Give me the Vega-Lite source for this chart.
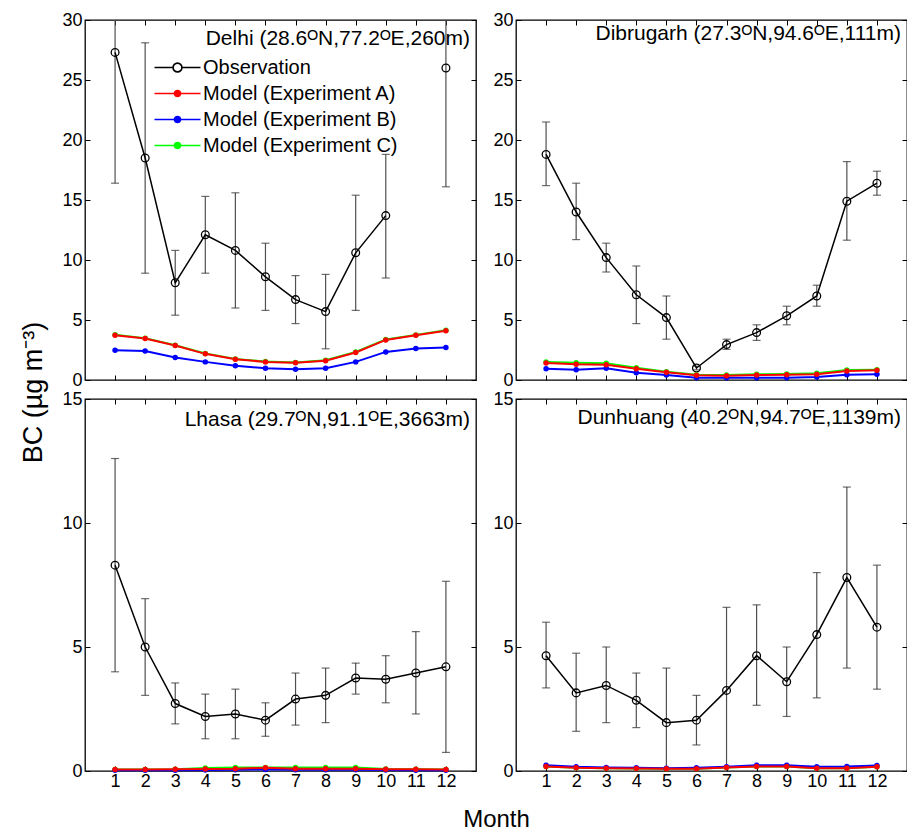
{
"$schema": "https://vega.github.io/schema/vega-lite/v6.json",
"padding": {"left": 18, "top": 10, "right": 2, "bottom": 0},
"background": "white",
"bounds": "flush",
"spacing": {"row": 19, "column": 40},
"columns": 2,
"datasets": {
"obs": [
{"st":"Delhi","s":"Observation","m":1,"v":27.3,"lo":16.4,"hi":33},
{"st":"Delhi","s":"Observation","m":2,"v":18.5,"lo":8.9,"hi":28.1},
{"st":"Delhi","s":"Observation","m":3,"v":8.1,"lo":5.4,"hi":10.8},
{"st":"Delhi","s":"Observation","m":4,"v":12.1,"lo":8.9,"hi":15.3},
{"st":"Delhi","s":"Observation","m":5,"v":10.8,"lo":6.0,"hi":15.6},
{"st":"Delhi","s":"Observation","m":6,"v":8.6,"lo":5.8,"hi":11.4},
{"st":"Delhi","s":"Observation","m":7,"v":6.7,"lo":4.7,"hi":8.7},
{"st":"Delhi","s":"Observation","m":8,"v":5.7,"lo":2.6,"hi":8.8},
{"st":"Delhi","s":"Observation","m":9,"v":10.6,"lo":5.8,"hi":15.4},
{"st":"Delhi","s":"Observation","m":10,"v":13.7,"lo":8.5,"hi":18.8},
{"st":"Delhi","s":"Observation","m":11,"v":null,"lo":null,"hi":null},
{"st":"Delhi","s":"Observation","m":12,"v":26.0,"lo":16.1,"hi":33},
{"st":"Dibrugarh","s":"Observation","m":1,"v":18.8,"lo":16.2,"hi":21.5},
{"st":"Dibrugarh","s":"Observation","m":2,"v":14.0,"lo":11.7,"hi":16.4},
{"st":"Dibrugarh","s":"Observation","m":3,"v":10.2,"lo":9.0,"hi":11.4},
{"st":"Dibrugarh","s":"Observation","m":4,"v":7.1,"lo":4.7,"hi":9.5},
{"st":"Dibrugarh","s":"Observation","m":5,"v":5.2,"lo":3.4,"hi":7.0},
{"st":"Dibrugarh","s":"Observation","m":6,"v":1.0,"lo":0.85,"hi":1.15},
{"st":"Dibrugarh","s":"Observation","m":7,"v":2.95,"lo":2.55,"hi":3.4},
{"st":"Dibrugarh","s":"Observation","m":8,"v":3.95,"lo":3.3,"hi":4.6},
{"st":"Dibrugarh","s":"Observation","m":9,"v":5.35,"lo":4.6,"hi":6.15},
{"st":"Dibrugarh","s":"Observation","m":10,"v":7.0,"lo":6.15,"hi":7.9},
{"st":"Dibrugarh","s":"Observation","m":11,"v":14.9,"lo":11.65,"hi":18.2},
{"st":"Dibrugarh","s":"Observation","m":12,"v":16.4,"lo":15.4,"hi":17.4},
{"st":"Lhasa","s":"Observation","m":1,"v":8.3,"lo":4.0,"hi":12.6},
{"st":"Lhasa","s":"Observation","m":2,"v":5.0,"lo":3.05,"hi":6.95},
{"st":"Lhasa","s":"Observation","m":3,"v":2.72,"lo":1.9,"hi":3.55},
{"st":"Lhasa","s":"Observation","m":4,"v":2.2,"lo":1.3,"hi":3.1},
{"st":"Lhasa","s":"Observation","m":5,"v":2.3,"lo":1.3,"hi":3.3},
{"st":"Lhasa","s":"Observation","m":6,"v":2.05,"lo":1.4,"hi":2.75},
{"st":"Lhasa","s":"Observation","m":7,"v":2.9,"lo":1.85,"hi":3.95},
{"st":"Lhasa","s":"Observation","m":8,"v":3.05,"lo":1.95,"hi":4.15},
{"st":"Lhasa","s":"Observation","m":9,"v":3.75,"lo":3.1,"hi":4.35},
{"st":"Lhasa","s":"Observation","m":10,"v":3.7,"lo":2.75,"hi":4.65},
{"st":"Lhasa","s":"Observation","m":11,"v":3.95,"lo":2.3,"hi":5.62},
{"st":"Lhasa","s":"Observation","m":12,"v":4.2,"lo":0.75,"hi":7.65},
{"st":"Dunhuang","s":"Observation","m":1,"v":4.65,"lo":3.35,"hi":6.0},
{"st":"Dunhuang","s":"Observation","m":2,"v":3.15,"lo":1.6,"hi":4.75},
{"st":"Dunhuang","s":"Observation","m":3,"v":3.45,"lo":1.95,"hi":5.0},
{"st":"Dunhuang","s":"Observation","m":4,"v":2.85,"lo":1.75,"hi":3.95},
{"st":"Dunhuang","s":"Observation","m":5,"v":1.95,"lo":-0.5,"hi":4.15},
{"st":"Dunhuang","s":"Observation","m":6,"v":2.05,"lo":1.05,"hi":3.05},
{"st":"Dunhuang","s":"Observation","m":7,"v":3.25,"lo":-0.5,"hi":6.6},
{"st":"Dunhuang","s":"Observation","m":8,"v":4.65,"lo":2.65,"hi":6.7},
{"st":"Dunhuang","s":"Observation","m":9,"v":3.6,"lo":2.2,"hi":5.0},
{"st":"Dunhuang","s":"Observation","m":10,"v":5.5,"lo":2.95,"hi":8.0},
{"st":"Dunhuang","s":"Observation","m":11,"v":7.8,"lo":4.15,"hi":11.45},
{"st":"Dunhuang","s":"Observation","m":12,"v":5.8,"lo":3.3,"hi":8.3}
],
"mod": [
{"st":"Delhi","s":"Model (Experiment C)","m":1,"v":3.77},{"st":"Delhi","s":"Model (Experiment C)","m":2,"v":3.49},{"st":"Delhi","s":"Model (Experiment C)","m":3,"v":2.9},{"st":"Delhi","s":"Model (Experiment C)","m":4,"v":2.21},{"st":"Delhi","s":"Model (Experiment C)","m":5,"v":1.76},{"st":"Delhi","s":"Model (Experiment C)","m":6,"v":1.54},{"st":"Delhi","s":"Model (Experiment C)","m":7,"v":1.46},{"st":"Delhi","s":"Model (Experiment C)","m":8,"v":1.64},{"st":"Delhi","s":"Model (Experiment C)","m":9,"v":2.33},{"st":"Delhi","s":"Model (Experiment C)","m":10,"v":3.38},{"st":"Delhi","s":"Model (Experiment C)","m":11,"v":3.76},{"st":"Delhi","s":"Model (Experiment C)","m":12,"v":4.15},
{"st":"Delhi","s":"Model (Experiment B)","m":1,"v":2.48},{"st":"Delhi","s":"Model (Experiment B)","m":2,"v":2.42},{"st":"Delhi","s":"Model (Experiment B)","m":3,"v":1.87},{"st":"Delhi","s":"Model (Experiment B)","m":4,"v":1.51},{"st":"Delhi","s":"Model (Experiment B)","m":5,"v":1.18},{"st":"Delhi","s":"Model (Experiment B)","m":6,"v":0.98},{"st":"Delhi","s":"Model (Experiment B)","m":7,"v":0.9},{"st":"Delhi","s":"Model (Experiment B)","m":8,"v":0.98},{"st":"Delhi","s":"Model (Experiment B)","m":9,"v":1.51},{"st":"Delhi","s":"Model (Experiment B)","m":10,"v":2.34},{"st":"Delhi","s":"Model (Experiment B)","m":11,"v":2.62},{"st":"Delhi","s":"Model (Experiment B)","m":12,"v":2.7},
{"st":"Delhi","s":"Model (Experiment A)","m":1,"v":3.72},{"st":"Delhi","s":"Model (Experiment A)","m":2,"v":3.45},{"st":"Delhi","s":"Model (Experiment A)","m":3,"v":2.87},{"st":"Delhi","s":"Model (Experiment A)","m":4,"v":2.18},{"st":"Delhi","s":"Model (Experiment A)","m":5,"v":1.73},{"st":"Delhi","s":"Model (Experiment A)","m":6,"v":1.51},{"st":"Delhi","s":"Model (Experiment A)","m":7,"v":1.43},{"st":"Delhi","s":"Model (Experiment A)","m":8,"v":1.6},{"st":"Delhi","s":"Model (Experiment A)","m":9,"v":2.29},{"st":"Delhi","s":"Model (Experiment A)","m":10,"v":3.34},{"st":"Delhi","s":"Model (Experiment A)","m":11,"v":3.72},{"st":"Delhi","s":"Model (Experiment A)","m":12,"v":4.11},
{"st":"Dibrugarh","s":"Model (Experiment C)","m":1,"v":1.5},{"st":"Dibrugarh","s":"Model (Experiment C)","m":2,"v":1.44},{"st":"Dibrugarh","s":"Model (Experiment C)","m":3,"v":1.39},{"st":"Dibrugarh","s":"Model (Experiment C)","m":4,"v":1.03},{"st":"Dibrugarh","s":"Model (Experiment C)","m":5,"v":0.69},{"st":"Dibrugarh","s":"Model (Experiment C)","m":6,"v":0.44},{"st":"Dibrugarh","s":"Model (Experiment C)","m":7,"v":0.42},{"st":"Dibrugarh","s":"Model (Experiment C)","m":8,"v":0.48},{"st":"Dibrugarh","s":"Model (Experiment C)","m":9,"v":0.5},{"st":"Dibrugarh","s":"Model (Experiment C)","m":10,"v":0.56},{"st":"Dibrugarh","s":"Model (Experiment C)","m":11,"v":0.83},{"st":"Dibrugarh","s":"Model (Experiment C)","m":12,"v":0.86},
{"st":"Dibrugarh","s":"Model (Experiment B)","m":1,"v":0.94},{"st":"Dibrugarh","s":"Model (Experiment B)","m":2,"v":0.86},{"st":"Dibrugarh","s":"Model (Experiment B)","m":3,"v":0.97},{"st":"Dibrugarh","s":"Model (Experiment B)","m":4,"v":0.61},{"st":"Dibrugarh","s":"Model (Experiment B)","m":5,"v":0.42},{"st":"Dibrugarh","s":"Model (Experiment B)","m":6,"v":0.19},{"st":"Dibrugarh","s":"Model (Experiment B)","m":7,"v":0.19},{"st":"Dibrugarh","s":"Model (Experiment B)","m":8,"v":0.19},{"st":"Dibrugarh","s":"Model (Experiment B)","m":9,"v":0.19},{"st":"Dibrugarh","s":"Model (Experiment B)","m":10,"v":0.25},{"st":"Dibrugarh","s":"Model (Experiment B)","m":11,"v":0.44},{"st":"Dibrugarh","s":"Model (Experiment B)","m":12,"v":0.48},
{"st":"Dibrugarh","s":"Model (Experiment A)","m":1,"v":1.42},{"st":"Dibrugarh","s":"Model (Experiment A)","m":2,"v":1.31},{"st":"Dibrugarh","s":"Model (Experiment A)","m":3,"v":1.28},{"st":"Dibrugarh","s":"Model (Experiment A)","m":4,"v":0.94},{"st":"Dibrugarh","s":"Model (Experiment A)","m":5,"v":0.64},{"st":"Dibrugarh","s":"Model (Experiment A)","m":6,"v":0.39},{"st":"Dibrugarh","s":"Model (Experiment A)","m":7,"v":0.36},{"st":"Dibrugarh","s":"Model (Experiment A)","m":8,"v":0.42},{"st":"Dibrugarh","s":"Model (Experiment A)","m":9,"v":0.44},{"st":"Dibrugarh","s":"Model (Experiment A)","m":10,"v":0.48},{"st":"Dibrugarh","s":"Model (Experiment A)","m":11,"v":0.75},{"st":"Dibrugarh","s":"Model (Experiment A)","m":12,"v":0.81},
{"st":"Lhasa","s":"Model (Experiment C)","m":1,"v":0.06},{"st":"Lhasa","s":"Model (Experiment C)","m":2,"v":0.06},{"st":"Lhasa","s":"Model (Experiment C)","m":3,"v":0.07},{"st":"Lhasa","s":"Model (Experiment C)","m":4,"v":0.12},{"st":"Lhasa","s":"Model (Experiment C)","m":5,"v":0.14},{"st":"Lhasa","s":"Model (Experiment C)","m":6,"v":0.14},{"st":"Lhasa","s":"Model (Experiment C)","m":7,"v":0.14},{"st":"Lhasa","s":"Model (Experiment C)","m":8,"v":0.14},{"st":"Lhasa","s":"Model (Experiment C)","m":9,"v":0.14},{"st":"Lhasa","s":"Model (Experiment C)","m":10,"v":0.08},{"st":"Lhasa","s":"Model (Experiment C)","m":11,"v":0.07},{"st":"Lhasa","s":"Model (Experiment C)","m":12,"v":0.06},
{"st":"Lhasa","s":"Model (Experiment B)","m":1,"v":0.03},{"st":"Lhasa","s":"Model (Experiment B)","m":2,"v":0.03},{"st":"Lhasa","s":"Model (Experiment B)","m":3,"v":0.03},{"st":"Lhasa","s":"Model (Experiment B)","m":4,"v":0.04},{"st":"Lhasa","s":"Model (Experiment B)","m":5,"v":0.05},{"st":"Lhasa","s":"Model (Experiment B)","m":6,"v":0.06},{"st":"Lhasa","s":"Model (Experiment B)","m":7,"v":0.05},{"st":"Lhasa","s":"Model (Experiment B)","m":8,"v":0.05},{"st":"Lhasa","s":"Model (Experiment B)","m":9,"v":0.05},{"st":"Lhasa","s":"Model (Experiment B)","m":10,"v":0.04},{"st":"Lhasa","s":"Model (Experiment B)","m":11,"v":0.03},{"st":"Lhasa","s":"Model (Experiment B)","m":12,"v":0.03},
{"st":"Lhasa","s":"Model (Experiment A)","m":1,"v":0.06},{"st":"Lhasa","s":"Model (Experiment A)","m":2,"v":0.06},{"st":"Lhasa","s":"Model (Experiment A)","m":3,"v":0.07},{"st":"Lhasa","s":"Model (Experiment A)","m":4,"v":0.08},{"st":"Lhasa","s":"Model (Experiment A)","m":5,"v":0.09},{"st":"Lhasa","s":"Model (Experiment A)","m":6,"v":0.13},{"st":"Lhasa","s":"Model (Experiment A)","m":7,"v":0.09},{"st":"Lhasa","s":"Model (Experiment A)","m":8,"v":0.09},{"st":"Lhasa","s":"Model (Experiment A)","m":9,"v":0.09},{"st":"Lhasa","s":"Model (Experiment A)","m":10,"v":0.07},{"st":"Lhasa","s":"Model (Experiment A)","m":11,"v":0.07},{"st":"Lhasa","s":"Model (Experiment A)","m":12,"v":0.06},
{"st":"Dunhuang","s":"Model (Experiment C)","m":1,"v":0.185},{"st":"Dunhuang","s":"Model (Experiment C)","m":2,"v":0.135},{"st":"Dunhuang","s":"Model (Experiment C)","m":3,"v":0.115},{"st":"Dunhuang","s":"Model (Experiment C)","m":4,"v":0.105},{"st":"Dunhuang","s":"Model (Experiment C)","m":5,"v":0.095},{"st":"Dunhuang","s":"Model (Experiment C)","m":6,"v":0.095},{"st":"Dunhuang","s":"Model (Experiment C)","m":7,"v":0.145},{"st":"Dunhuang","s":"Model (Experiment C)","m":8,"v":0.185},{"st":"Dunhuang","s":"Model (Experiment C)","m":9,"v":0.185},{"st":"Dunhuang","s":"Model (Experiment C)","m":10,"v":0.115},{"st":"Dunhuang","s":"Model (Experiment C)","m":11,"v":0.115},{"st":"Dunhuang","s":"Model (Experiment C)","m":12,"v":0.175},
{"st":"Dunhuang","s":"Model (Experiment B)","m":1,"v":0.23},{"st":"Dunhuang","s":"Model (Experiment B)","m":2,"v":0.17},{"st":"Dunhuang","s":"Model (Experiment B)","m":3,"v":0.14},{"st":"Dunhuang","s":"Model (Experiment B)","m":4,"v":0.13},{"st":"Dunhuang","s":"Model (Experiment B)","m":5,"v":0.11},{"st":"Dunhuang","s":"Model (Experiment B)","m":6,"v":0.13},{"st":"Dunhuang","s":"Model (Experiment B)","m":7,"v":0.17},{"st":"Dunhuang","s":"Model (Experiment B)","m":8,"v":0.23},{"st":"Dunhuang","s":"Model (Experiment B)","m":9,"v":0.23},{"st":"Dunhuang","s":"Model (Experiment B)","m":10,"v":0.17},{"st":"Dunhuang","s":"Model (Experiment B)","m":11,"v":0.18},{"st":"Dunhuang","s":"Model (Experiment B)","m":12,"v":0.22},
{"st":"Dunhuang","s":"Model (Experiment A)","m":1,"v":0.18},{"st":"Dunhuang","s":"Model (Experiment A)","m":2,"v":0.13},{"st":"Dunhuang","s":"Model (Experiment A)","m":3,"v":0.11},{"st":"Dunhuang","s":"Model (Experiment A)","m":4,"v":0.1},{"st":"Dunhuang","s":"Model (Experiment A)","m":5,"v":0.09},{"st":"Dunhuang","s":"Model (Experiment A)","m":6,"v":0.09},{"st":"Dunhuang","s":"Model (Experiment A)","m":7,"v":0.14},{"st":"Dunhuang","s":"Model (Experiment A)","m":8,"v":0.18},{"st":"Dunhuang","s":"Model (Experiment A)","m":9,"v":0.18},{"st":"Dunhuang","s":"Model (Experiment A)","m":10,"v":0.11},{"st":"Dunhuang","s":"Model (Experiment A)","m":11,"v":0.11},{"st":"Dunhuang","s":"Model (Experiment A)","m":12,"v":0.17}
]
},
"concat": [
{
"width": 391, "height": 360,
"title": {"text": "Delhi (28.6ᴼN,77.2ᴼE,260m)", "offset": -38},
"layer": [
{"data":{"name":"obs"},"transform":[{"filter":"datum.st==='Delhi'"}],"mark":{"type":"rule","color":"#505050","strokeWidth":1.2,"clip":true},
 "encoding":{"x":{"field":"m","type":"quantitative","scale":{"domain":[0,13],"nice":false},"axis":null},"y":{"field":"lo","type":"quantitative","scale":{"domain":[0,30],"nice":false},"axis":null},"y2":{"field":"hi"}}},
{"data":{"name":"obs"},"transform":[{"filter":"datum.st==='Delhi'"}],"mark":{"type":"tick","orient":"horizontal","size":8,"thickness":1.2,"color":"#303030","clip":true},
 "encoding":{"x":{"field":"m","type":"quantitative","scale":{"domain":[0,13],"nice":false},"axis":null},"y":{"field":"lo","type":"quantitative","scale":{"domain":[0,30],"nice":false},"axis":null}}},
{"data":{"name":"obs"},"transform":[{"filter":"datum.st==='Delhi'"}],"mark":{"type":"tick","orient":"horizontal","size":8,"thickness":1.2,"color":"#303030","clip":true},
 "encoding":{"x":{"field":"m","type":"quantitative","scale":{"domain":[0,13],"nice":false},"axis":{"orient":"top","values":[1,2,3,4,5,6,7,8,9,10,11,12],"labels":false,"title":null}},"y":{"field":"hi","type":"quantitative","scale":{"domain":[0,30],"nice":false},"axis":{"orient":"right","values":[0,5,10,15,20,25,30],"labels":false,"title":null}}}},
{"data":{"name":"obs"},"transform":[{"filter":"datum.st==='Delhi'"}],"mark":{"type":"line","strokeWidth":1.5,"invalid":"break-paths-show-domains"},
 "encoding":{"x":{"field":"m","type":"quantitative","scale":{"domain":[0,13],"nice":false},"axis":{"orient":"bottom","values":[1,2,3,4,5,6,7,8,9,10,11,12],"labels":false,"title":null}},
  "y":{"field":"v","type":"quantitative","scale":{"domain":[0,30],"nice":false},"axis":{"orient":"left","values":[0,5,10,15,20,25,30],"title":"BC (µg m⁻³)","titleX":-52,"titleY":372,"titleAngle":-90,"titleFontSize":27,"titleFontWeight":"normal","titleBaseline":"middle","titleAlign":"center","titleColor":"black","titleFont":"Liberation Sans"}},
  "color":{"field":"s","type":"nominal","scale":{"domain":["Observation","Model (Experiment A)","Model (Experiment B)","Model (Experiment C)"],"range":["#000000","#ff0000","#0000ff","#00ff00"]},
   "legend":{"orient":"none","legendX":80,"legendY":35,"title":null,"symbolSize":529,"symbolStrokeWidth":1.3,"labelOffset":13,"rowPadding":3,"labelFont":"Liberation Sans","labelFontSize":20,"labelColor":"black","labelLimit":400,"padding":0,
    "encode":{"symbols":{"update":{
     "shape":{"signal":"datum.value === 'Observation' ? 'M-2,0H-0.4M0.4,0H2M-0.4,0A0.4,0.4 0 1,0 0.4,0A0.4,0.4 0 1,0 -0.4,0ZM-0.37,0A0.37,0.37 0 1,1 0.37,0A0.37,0.37 0 1,1 -0.37,0Z' : 'M-2,0H2M-0.28,0A0.28,0.28 0 1,0 0.28,0A0.28,0.28 0 1,0 -0.28,0Z'"},
     "stroke":{"signal":"datum.value === 'Observation' ? 'black' : datum.value === 'Model (Experiment A)' ? '#ff0000' : datum.value === 'Model (Experiment B)' ? '#0000ff' : '#00ff00'"},
     "strokeOpacity":{"value":1},"opacity":{"value":1}}}}}}}},
{"data":{"name":"obs"},"transform":[{"filter":"datum.st==='Delhi'"}],"mark":{"type":"point","filled":false,"size":60,"strokeWidth":1.3,"color":"black","opacity":1},
 "encoding":{"x":{"field":"m","type":"quantitative","scale":{"domain":[0,13],"nice":false},"axis":null},"y":{"field":"v","type":"quantitative","scale":{"domain":[0,30],"nice":false},"axis":null}}},
{"data":{"name":"mod"},"transform":[{"filter":"datum.st==='Delhi'"}],"mark":{"type":"line","strokeWidth":2,"point":{"filled":true,"size":30,"opacity":1}},
 "encoding":{"x":{"field":"m","type":"quantitative","scale":{"domain":[0,13],"nice":false},"axis":null},"y":{"field":"v","type":"quantitative","scale":{"domain":[0,30],"nice":false},"axis":null},
  "color":{"field":"s","type":"nominal","scale":{"domain":["Observation","Model (Experiment A)","Model (Experiment B)","Model (Experiment C)"],"range":["#000000","#ff0000","#0000ff","#00ff00"]}}}}
]
},
{
"width": 391, "height": 360,
"title": {"text": "Dibrugarh (27.3ᴼN,94.6ᴼE,111m)", "offset": -33},
"layer": [
{"data":{"name":"obs"},"transform":[{"filter":"datum.st==='Dibrugarh'"}],"mark":{"type":"rule","color":"#505050","strokeWidth":1.2,"clip":true},
 "encoding":{"x":{"field":"m","type":"quantitative","scale":{"domain":[0,13],"nice":false},"axis":null},"y":{"field":"lo","type":"quantitative","scale":{"domain":[0,30],"nice":false},"axis":null},"y2":{"field":"hi"}}},
{"data":{"name":"obs"},"transform":[{"filter":"datum.st==='Dibrugarh'"}],"mark":{"type":"tick","orient":"horizontal","size":8,"thickness":1.2,"color":"#303030","clip":true},
 "encoding":{"x":{"field":"m","type":"quantitative","scale":{"domain":[0,13],"nice":false},"axis":null},"y":{"field":"lo","type":"quantitative","scale":{"domain":[0,30],"nice":false},"axis":null}}},
{"data":{"name":"obs"},"transform":[{"filter":"datum.st==='Dibrugarh'"}],"mark":{"type":"tick","orient":"horizontal","size":8,"thickness":1.2,"color":"#303030","clip":true},
 "encoding":{"x":{"field":"m","type":"quantitative","scale":{"domain":[0,13],"nice":false},"axis":{"orient":"top","values":[1,2,3,4,5,6,7,8,9,10,11,12],"labels":false,"title":null}},"y":{"field":"hi","type":"quantitative","scale":{"domain":[0,30],"nice":false},"axis":{"orient":"right","values":[0,5,10,15,20,25,30],"labels":false,"title":null}}}},
{"data":{"name":"obs"},"transform":[{"filter":"datum.st==='Dibrugarh'"}],"mark":{"type":"line","strokeWidth":1.5},
 "encoding":{"x":{"field":"m","type":"quantitative","scale":{"domain":[0,13],"nice":false},"axis":{"orient":"bottom","values":[1,2,3,4,5,6,7,8,9,10,11,12],"labels":false,"title":null}},
  "y":{"field":"v","type":"quantitative","scale":{"domain":[0,30],"nice":false},"axis":{"orient":"left","values":[0,5,10,15,20,25,30],"title":null}},
  "color":{"field":"s","type":"nominal","scale":{"domain":["Observation","Model (Experiment A)","Model (Experiment B)","Model (Experiment C)"],"range":["#000000","#ff0000","#0000ff","#00ff00"]}}}},
{"data":{"name":"obs"},"transform":[{"filter":"datum.st==='Dibrugarh'"}],"mark":{"type":"point","filled":false,"size":60,"strokeWidth":1.3,"color":"black","opacity":1},
 "encoding":{"x":{"field":"m","type":"quantitative","scale":{"domain":[0,13],"nice":false},"axis":null},"y":{"field":"v","type":"quantitative","scale":{"domain":[0,30],"nice":false},"axis":null}}},
{"data":{"name":"mod"},"transform":[{"filter":"datum.st==='Dibrugarh'"}],"mark":{"type":"line","strokeWidth":2,"point":{"filled":true,"size":30,"opacity":1}},
 "encoding":{"x":{"field":"m","type":"quantitative","scale":{"domain":[0,13],"nice":false},"axis":null},"y":{"field":"v","type":"quantitative","scale":{"domain":[0,30],"nice":false},"axis":null},
  "color":{"field":"s","type":"nominal","scale":{"domain":["Observation","Model (Experiment A)","Model (Experiment B)","Model (Experiment C)"],"range":["#000000","#ff0000","#0000ff","#00ff00"]}}}}
]
},
{
"width": 391, "height": 372,
"title": {"text": "Lhasa (29.7ᴼN,91.1ᴼE,3663m)", "offset": -40},
"layer": [
{"data":{"name":"obs"},"transform":[{"filter":"datum.st==='Lhasa'"}],"mark":{"type":"rule","color":"#505050","strokeWidth":1.2,"clip":true},
 "encoding":{"x":{"field":"m","type":"quantitative","scale":{"domain":[0,13],"nice":false},"axis":null},"y":{"field":"lo","type":"quantitative","scale":{"domain":[0,15],"nice":false},"axis":null},"y2":{"field":"hi"}}},
{"data":{"name":"obs"},"transform":[{"filter":"datum.st==='Lhasa'"}],"mark":{"type":"tick","orient":"horizontal","size":8,"thickness":1.2,"color":"#303030","clip":true},
 "encoding":{"x":{"field":"m","type":"quantitative","scale":{"domain":[0,13],"nice":false},"axis":null},"y":{"field":"lo","type":"quantitative","scale":{"domain":[0,15],"nice":false},"axis":null}}},
{"data":{"name":"obs"},"transform":[{"filter":"datum.st==='Lhasa'"}],"mark":{"type":"tick","orient":"horizontal","size":8,"thickness":1.2,"color":"#303030","clip":true},
 "encoding":{"x":{"field":"m","type":"quantitative","scale":{"domain":[0,13],"nice":false},"axis":{"orient":"top","values":[1,2,3,4,5,6,7,8,9,10,11,12],"labels":false,"title":null}},"y":{"field":"hi","type":"quantitative","scale":{"domain":[0,15],"nice":false},"axis":{"orient":"right","values":[0,5,10,15],"labels":false,"title":null}}}},
{"data":{"name":"obs"},"transform":[{"filter":"datum.st==='Lhasa'"}],"mark":{"type":"line","strokeWidth":1.5},
 "encoding":{"x":{"field":"m","type":"quantitative","scale":{"domain":[0,13],"nice":false},"axis":{"orient":"bottom","values":[1,2,3,4,5,6,7,8,9,10,11,12],"labels":true,"title":"Month","titleX":411,"titleY":48,"titleBaseline":"middle","titleAlign":"center","titleFontSize":24,"titleFontWeight":"normal","titleColor":"black","titleFont":"Liberation Sans"}},
  "y":{"field":"v","type":"quantitative","scale":{"domain":[0,15],"nice":false},"axis":{"orient":"left","values":[0,5,10,15],"title":null}},
  "color":{"field":"s","type":"nominal","scale":{"domain":["Observation","Model (Experiment A)","Model (Experiment B)","Model (Experiment C)"],"range":["#000000","#ff0000","#0000ff","#00ff00"]}}}},
{"data":{"name":"obs"},"transform":[{"filter":"datum.st==='Lhasa'"}],"mark":{"type":"point","filled":false,"size":60,"strokeWidth":1.3,"color":"black","opacity":1},
 "encoding":{"x":{"field":"m","type":"quantitative","scale":{"domain":[0,13],"nice":false},"axis":null},"y":{"field":"v","type":"quantitative","scale":{"domain":[0,15],"nice":false},"axis":null}}},
{"data":{"name":"mod"},"transform":[{"filter":"datum.st==='Lhasa'"}],"mark":{"type":"line","strokeWidth":2,"point":{"filled":true,"size":30,"opacity":1}},
 "encoding":{"x":{"field":"m","type":"quantitative","scale":{"domain":[0,13],"nice":false},"axis":null},"y":{"field":"v","type":"quantitative","scale":{"domain":[0,15],"nice":false},"axis":null},
  "color":{"field":"s","type":"nominal","scale":{"domain":["Observation","Model (Experiment A)","Model (Experiment B)","Model (Experiment C)"],"range":["#000000","#ff0000","#0000ff","#00ff00"]}}}}
]
},
{
"width": 391, "height": 372,
"title": {"text": "Dunhuang (40.2ᴼN,94.7ᴼE,1139m)", "offset": -38},
"layer": [
{"data":{"name":"obs"},"transform":[{"filter":"datum.st==='Dunhuang'"}],"mark":{"type":"rule","color":"#505050","strokeWidth":1.2,"clip":true},
 "encoding":{"x":{"field":"m","type":"quantitative","scale":{"domain":[0,13],"nice":false},"axis":null},"y":{"field":"lo","type":"quantitative","scale":{"domain":[0,15],"nice":false},"axis":null},"y2":{"field":"hi"}}},
{"data":{"name":"obs"},"transform":[{"filter":"datum.st==='Dunhuang'"}],"mark":{"type":"tick","orient":"horizontal","size":8,"thickness":1.2,"color":"#303030","clip":true},
 "encoding":{"x":{"field":"m","type":"quantitative","scale":{"domain":[0,13],"nice":false},"axis":null},"y":{"field":"lo","type":"quantitative","scale":{"domain":[0,15],"nice":false},"axis":null}}},
{"data":{"name":"obs"},"transform":[{"filter":"datum.st==='Dunhuang'"}],"mark":{"type":"tick","orient":"horizontal","size":8,"thickness":1.2,"color":"#303030","clip":true},
 "encoding":{"x":{"field":"m","type":"quantitative","scale":{"domain":[0,13],"nice":false},"axis":{"orient":"top","values":[1,2,3,4,5,6,7,8,9,10,11,12],"labels":false,"title":null}},"y":{"field":"hi","type":"quantitative","scale":{"domain":[0,15],"nice":false},"axis":{"orient":"right","values":[0,5,10,15],"labels":false,"title":null}}}},
{"data":{"name":"obs"},"transform":[{"filter":"datum.st==='Dunhuang'"}],"mark":{"type":"line","strokeWidth":1.5},
 "encoding":{"x":{"field":"m","type":"quantitative","scale":{"domain":[0,13],"nice":false},"axis":{"orient":"bottom","values":[1,2,3,4,5,6,7,8,9,10,11,12],"labels":true,"title":null}},
  "y":{"field":"v","type":"quantitative","scale":{"domain":[0,15],"nice":false},"axis":{"orient":"left","values":[0,5,10,15],"title":null}},
  "color":{"field":"s","type":"nominal","scale":{"domain":["Observation","Model (Experiment A)","Model (Experiment B)","Model (Experiment C)"],"range":["#000000","#ff0000","#0000ff","#00ff00"]}}}},
{"data":{"name":"obs"},"transform":[{"filter":"datum.st==='Dunhuang'"}],"mark":{"type":"point","filled":false,"size":60,"strokeWidth":1.3,"color":"black","opacity":1},
 "encoding":{"x":{"field":"m","type":"quantitative","scale":{"domain":[0,13],"nice":false},"axis":null},"y":{"field":"v","type":"quantitative","scale":{"domain":[0,15],"nice":false},"axis":null}}},
{"data":{"name":"mod"},"transform":[{"filter":"datum.st==='Dunhuang'"}],"mark":{"type":"line","strokeWidth":2,"point":{"filled":true,"size":30,"opacity":1}},
 "encoding":{"x":{"field":"m","type":"quantitative","scale":{"domain":[0,13],"nice":false},"axis":null},"y":{"field":"v","type":"quantitative","scale":{"domain":[0,15],"nice":false},"axis":null},
  "color":{"field":"s","type":"nominal","scale":{"domain":["Observation","Model (Experiment A)","Model (Experiment B)","Model (Experiment C)"],"range":["#000000","#ff0000","#0000ff","#00ff00"]}}}}
]
}
],
"config": {
 "font": "Liberation Sans",
 "view": {"stroke": "black", "strokeWidth": 1.3},
 "axis": {"domain": false, "grid": false, "ticks": true, "tickSize": -5, "tickColor": "black", "tickWidth": 1, "labelFont": "Liberation Sans", "labelFontSize": 18, "labelColor": "black"},
 "axisX": {"labelPadding": 6},
 "axisY": {"labelPadding": 8},
 "title": {"anchor": "end", "frame": "group", "dx": -6, "fontSize": 21, "fontWeight": "normal", "font": "Liberation Sans", "color": "black", "baseline": "alphabetic"}
}
}
